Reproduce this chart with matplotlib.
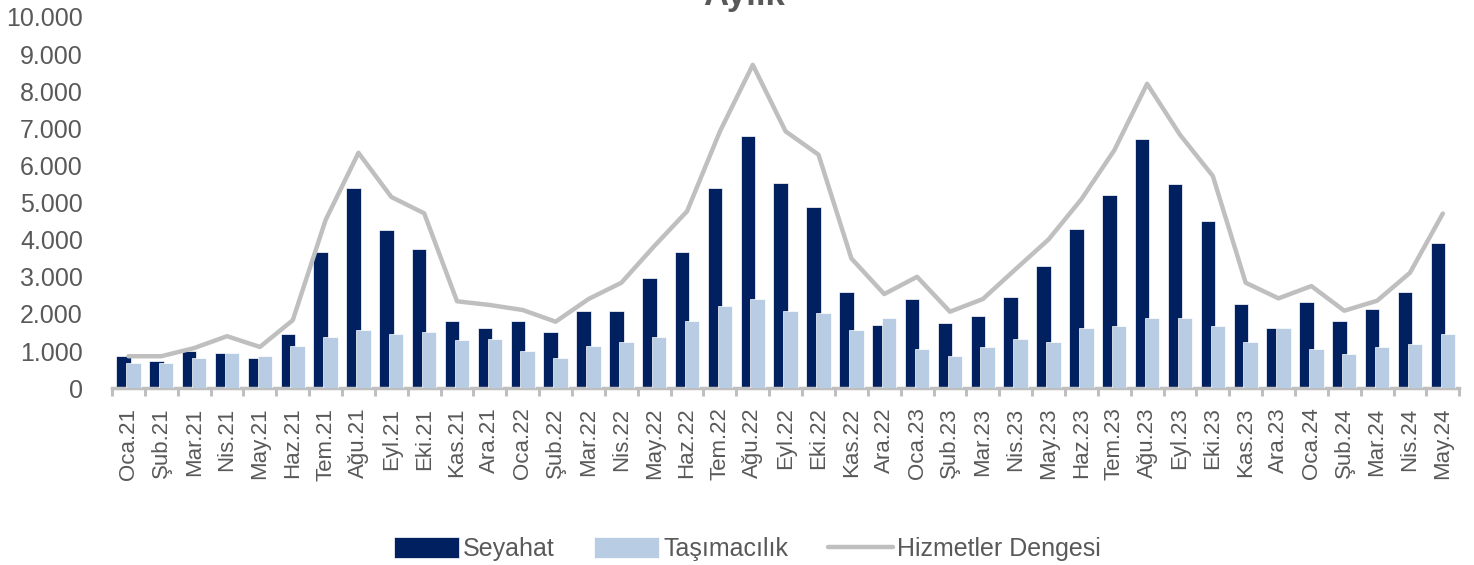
import numpy as np
import matplotlib
matplotlib.use('Agg')
import matplotlib.pyplot as plt

"""Aylik hizmetler dengesi: seyahat, tasimacilik ve toplam"""

months = ['Oca', 'Şub', 'Mar', 'Nis', 'May', 'Haz', 'Tem', 'Ağu', 'Eyl', 'Eki', 'Kas', 'Ara']
labels = [m + '.' + y for y in ['21', '22', '23'] for m in months] + \
         [m + '.24' for m in months[:5]]

seyahat = [860, 730, 1000, 940, 810, 1450, 3670, 5400, 4260, 3740, 1810, 1630,
           1820, 1505, 2080, 2080, 2975, 3670, 5390, 6790, 5530, 4880, 2580, 1700,
           2400, 1765, 1950, 2460, 3300, 4300, 5200, 6720, 5510, 4500, 2270, 1630,
           2330, 1820, 2130, 2580, 3915]
tasimacilik = [680, 680, 800, 940, 860, 1130, 1370, 1560, 1450, 1500, 1310, 1317,
               1000, 806, 1137, 1253, 1370, 1817, 2212, 2400, 2078, 2016, 1567, 1882,
               1056, 868, 1118, 1317, 1253, 1630, 1683, 1882, 1882, 1683, 1253, 1630,
               1056, 922, 1118, 1182, 1450]
hizmetler = [860, 860, 1080, 1400, 1110, 1830, 4530, 6340, 5150, 4710, 2340, 2240,
             2105, 1790, 2400, 2840, 3825, 4766, 6917, 8710, 6917, 6290, 3495, 2535,
             3000, 2060, 2400, 3207, 4005, 5089, 6406, 8199, 6828, 5716, 2840, 2419,
             2750, 2086, 2355, 3108, 4704]

plt.rcParams['font.family'] = ['Liberation Sans', 'DejaVu Sans']
gray_txt = '#595959'
axis_gray = '#BFBFBF'

fig = plt.figure(figsize=(14.74, 5.65), dpi=100)
ax = fig.add_axes([0.076, 0.313, 0.914, 0.657])

x = np.arange(len(labels))
w = 0.44
b1 = ax.bar(x - 0.15, seyahat, w, color='#002060', edgecolor='white', linewidth=0.5,
            label='Seyahat', zorder=2)
b2 = ax.bar(x + 0.15, tasimacilik, w, color='#B8CCE4', edgecolor='white', linewidth=0.5,
            label='Taşımacılık', zorder=3)
l1, = ax.plot(x, hizmetler, color=axis_gray, linewidth=3.2, solid_capstyle='round',
              label='Hizmetler Dengesi', zorder=4)

ax.set_xlim(-0.5, len(labels) - 0.5)
ax.set_ylim(0, 10000)
ax.set_yticks(np.arange(0, 10001, 1000))
ax.set_yticklabels(['{:,}'.format(v).replace(',', '.') for v in range(0, 10001, 1000)],
                   fontsize=18, color=gray_txt)
ax.tick_params(axis='y', length=0, pad=21)

ax.set_xticks(x)
ax.set_xticklabels(labels, rotation=90, fontsize=16, color=gray_txt)
ax.set_xticks(np.arange(-0.5, len(labels), 1), minor=True)
ax.tick_params(axis='x', which='major', length=0, pad=14)
ax.tick_params(axis='x', which='minor', length=6, width=2.2, color=axis_gray)

for s in ['left', 'right', 'top']:
    ax.spines[s].set_visible(False)
ax.spines['bottom'].set_color(axis_gray)
ax.spines['bottom'].set_linewidth(2.5)

fig.text(0.505, 1 - 5 / 565, 'Aylık', ha='center', va='baseline', fontsize=25,
         fontweight='bold', color=gray_txt)

fig.legend(handles=[b1, b2, l1], loc='center', bbox_to_anchor=(0.507, 1 - 549 / 565),
           ncol=3, frameon=False, fontsize=18, labelcolor=gray_txt,
           handlelength=2.6, handleheight=0.95, handletextpad=0.16, columnspacing=1.6)

fig.savefig('out.png', dpi=100)
